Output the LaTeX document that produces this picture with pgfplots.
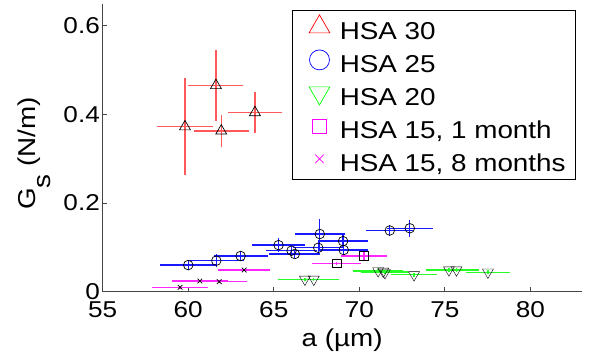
\documentclass[border=0pt]{standalone}
\usepackage{fontspec}
\setmainfont{Liberation Sans}[FakeStretch=1.14]
\usepackage{pgfplots}
\usepackage{pgfplotstable}
\pgfplotsset{compat=1.18}
\definecolor{axgray}{RGB}{70,70,70}
\definecolor{mred}{RGB}{255,0,0}
\definecolor{mblue}{RGB}{0,0,255}
\definecolor{mgreen}{RGB}{0,255,0}
\definecolor{mmag}{RGB}{255,0,255}

% marker positions
\pgfplotstableread{
x y
59.81 0.372
61.62 0.465
61.93 0.3625
63.90 0.404
}\tabA
\pgfplotstableread{
x y
60.00 0.060
61.64 0.070
63.06 0.0805
65.28 0.105
66.04 0.0925
66.23 0.085
67.69 0.130
67.60 0.099
69.05 0.114
69.09 0.094
71.78 0.138
72.95 0.143
}\tabB
\pgfplotstableread{
x y
66.82 0.028
67.34 0.028
71.10 0.047
71.40 0.046
71.50 0.043
73.20 0.038
75.24 0.049
75.68 0.049
77.52 0.044
}\tabC
\pgfplotstableread{
x y
68.67 0.064
70.28 0.0805
}\tabD
\pgfplotstableread{
x y
59.52 0.010
60.68 0.024
61.81 0.0226
63.27 0.049
}\tabE

\pgfplotsset{
  legimg/.style={legend image code/.code={\path[draw=none, fill=none, use as bounding box] (0,-10.5bp) rectangle (37bp,10.5bp); \draw[##1,/tikz/only marks] plot coordinates {(20.7bp,2bp)};}},
  ebar/.style={forget plot, draw=#1, line width=1.3bp, mark=none, unbounded coords=jump},
  emk/.style={forget plot, only marks, black, mark options={black, line width=0.7bp, solid, fill=none}},
}
\begin{document}
\begin{tikzpicture}
\begin{axis}[
  scale only axis, width=479bp, height=287.4bp,
  xmin=55, xmax=83, ymin=0, ymax=0.648,
  axis lines=left, axis line style={-, axgray, line width=0.8bp},
  tick style={axgray, line width=0.8bp}, tick align=inside, major tick length=4.5bp,
  xtick={55,60,...,80}, ytick={0,0.2,0.4,0.6},
  /pgf/number format/assume math mode=true,
  tick label style={font=\fontsize{23}{26}\selectfont, black},
  xticklabel style={anchor=north, yshift=-10bp, inner sep=0pt},
  yticklabel style={anchor=east, inner sep=0pt, xshift=-2.7bp},
  xlabel={a (µm)},
  ylabel={G\raisebox{-15bp}{s} (N/m)},
  every axis x label/.style={at={(axis description cs:0.5,-0.189)}, anchor=base, font=\fontsize{24.5}{28}\selectfont},
  every axis y label/.style={at={(axis description cs:-0.1413,0.481)}, anchor=base, rotate=90, font=\fontsize{24.5}{28}\selectfont},
  legend style={at={(1,1)}, anchor=north east, xshift=-5.7bp, yshift=-5.7bp,
    draw=black, line width=0.8bp, inner xsep=6bp, inner ysep=8bp, row sep=12bp,
    font=\fontsize{24.5}{28}\selectfont,
    nodes={inner xsep=4bp, inner ysep=0bp, text height=21bp, text depth=0bp},
    cells={anchor=west}},
]
\addlegendimage{legimg, mred, mark=triangle, mark size=12bp, mark options={line width=0.7bp}}
\addlegendentry{HSA 30}
\addlegendimage{legimg, mblue, mark=o, mark size=10bp, mark options={line width=0.7bp}}
\addlegendentry{HSA 25}
\addlegendimage{legimg, mgreen, mark=triangle, mark size=12bp, mark options={line width=0.7bp, rotate=180}}
\addlegendentry{HSA 20}
\addlegendimage{legimg, mmag, mark=square, mark size=7bp, mark options={line width=0.7bp}}
\addlegendentry{HSA 15, 1 month}
\addlegendimage{legimg, mmag, mark=x, mark size=6bp, mark options={line width=0.7bp}}
\addlegendentry{HSA 15, 8 months}

% error bars (horizontal and vertical segments)
\addplot[ebar={mred!65}] coordinates {
(58.17,0.372) (61.45,0.372) (nan,nan) (59.81,0.263) (59.81,0.481) (nan,nan)
(60.01,0.465) (63.23,0.465) (nan,nan) (61.62,0.384) (61.62,0.546) (nan,nan)
(60.33,0.3625) (63.53,0.3625) (nan,nan) (61.93,0.3265) (61.93,0.3985) (nan,nan)
(62.34,0.404) (65.46,0.404) (nan,nan) (63.90,0.358) (63.90,0.450)
};
\addplot[ebar={mblue!90}] coordinates {
(58.35,0.060) (61.65,0.060) (nan,nan) (60.00,0.048) (60.00,0.072) (nan,nan)
(60.00,0.070) (63.28,0.070) (nan,nan) (61.64,0.056) (61.64,0.084) (nan,nan)
(61.48,0.0805) (64.64,0.0805) (nan,nan) (63.06,0.0685) (63.06,0.0925) (nan,nan)
(63.75,0.105) (66.81,0.105) (nan,nan) (65.28,0.089) (65.28,0.121) (nan,nan)
(64.54,0.0925) (67.54,0.0925) (nan,nan) (66.04,0.0825) (66.04,0.1025) (nan,nan)
(64.73,0.085) (67.73,0.085) (nan,nan) (66.23,0.075) (66.23,0.095) (nan,nan)
(66.23,0.130) (69.15,0.130) (nan,nan) (67.69,0.097) (67.69,0.163) (nan,nan)
(66.14,0.099) (69.06,0.099) (nan,nan) (67.60,0.087) (67.60,0.111) (nan,nan)
(67.61,0.114) (70.49,0.114) (nan,nan) (69.05,0.098) (69.05,0.130) (nan,nan)
(67.67,0.094) (70.51,0.094) (nan,nan) (69.09,0.082) (69.09,0.106) (nan,nan)
(70.42,0.138) (73.14,0.138) (nan,nan) (71.78,0.125) (71.78,0.151) (nan,nan)
(71.59,0.143) (74.31,0.143) (nan,nan) (72.95,0.124) (72.95,0.162)
};
\addplot[ebar={mgreen!85}] coordinates {
(65.22,0.028) (68.42,0.028) (nan,nan) (66.82,0.024) (66.82,0.032) (nan,nan)
(65.84,0.028) (68.84,0.028) (nan,nan) (67.34,0.024) (67.34,0.032) (nan,nan)
(69.65,0.047) (72.55,0.047) (nan,nan) (71.10,0.043) (71.10,0.051) (nan,nan)
(69.98,0.046) (72.82,0.046) (nan,nan) (71.40,0.042) (71.40,0.050) (nan,nan)
(70.10,0.043) (72.90,0.043) (nan,nan) (71.50,0.039) (71.50,0.047) (nan,nan)
(71.87,0.038) (74.53,0.038) (nan,nan) (73.20,0.034) (73.20,0.042) (nan,nan)
(73.91,0.049) (76.57,0.049) (nan,nan) (75.24,0.045) (75.24,0.053) (nan,nan)
(74.38,0.049) (76.98,0.049) (nan,nan) (75.68,0.045) (75.68,0.053) (nan,nan)
(76.25,0.044) (78.79,0.044) (nan,nan) (77.52,0.040) (77.52,0.048)
};
\addplot[ebar={mmag!85}] coordinates {
(67.24,0.064) (70.10,0.064) (nan,nan) (68.67,0.060) (68.67,0.068) (nan,nan)
(68.92,0.0805) (71.64,0.0805) (nan,nan) (70.28,0.0705) (70.28,0.0905)
};
\addplot[ebar={mmag!85}] coordinates {
(57.87,0.010) (61.17,0.010) (nan,nan) (59.52,0.007) (59.52,0.013) (nan,nan)
(59.06,0.024) (62.30,0.024) (nan,nan) (60.68,0.021) (60.68,0.027) (nan,nan)
(60.21,0.0226) (63.41,0.0226) (nan,nan) (61.81,0.0196) (61.81,0.0256) (nan,nan)
(61.76,0.049) (64.78,0.049) (nan,nan) (63.27,0.046) (63.27,0.052)
};
% markers
\addplot[emk, mark=triangle, mark size=6.3bp] table[x=x, y=y] {\tabA};
\addplot[emk, mark=o, mark size=4.8bp] table[x=x, y=y] {\tabB};
\addplot[emk, mark=triangle, mark size=6.3bp, mark options={rotate=180}] table[x=x, y=y] {\tabC};
\addplot[emk, mark=square, mark size=4.3bp] table[x=x, y=y] {\tabD};
\addplot[emk, mark=x, mark size=3.3bp] table[x=x, y=y] {\tabE};
\end{axis}
\path (-102.7bp,-64.3bp) rectangle (491.3bp,291.7bp);
\end{tikzpicture}
\end{document}
